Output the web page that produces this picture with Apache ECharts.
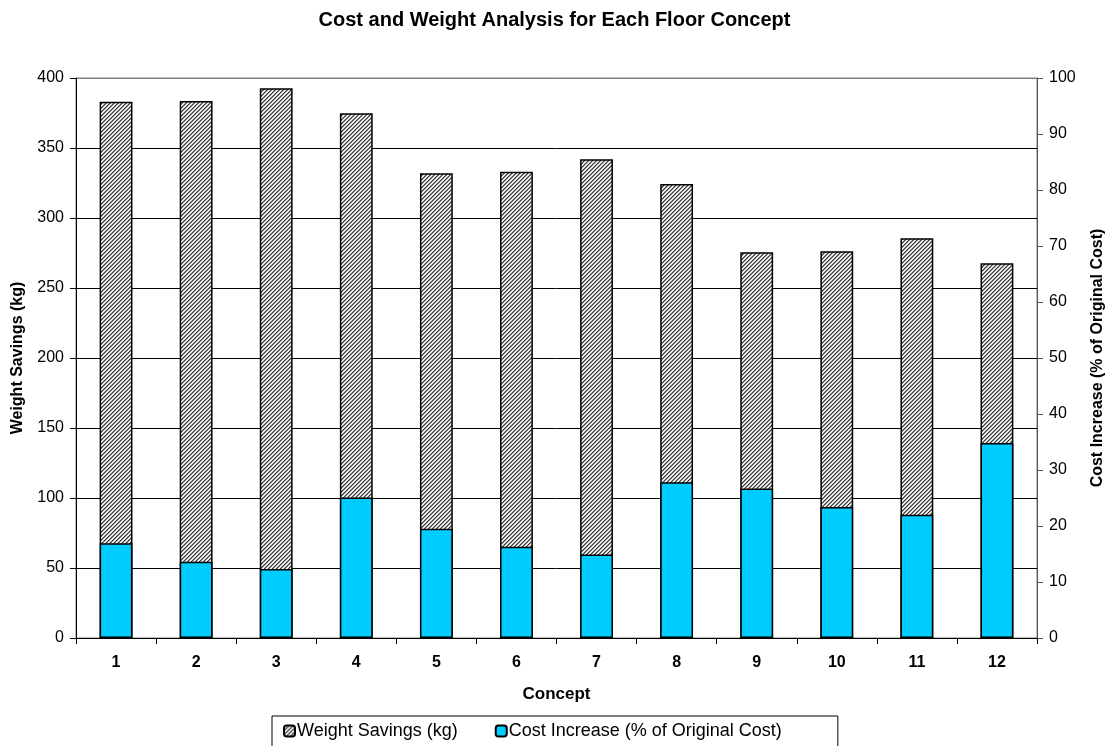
<!DOCTYPE html>
<html>
<head>
<meta charset="utf-8">
<script src="https://cdn.jsdelivr.net/npm/echarts@6/dist/echarts.min.js"></script>
<style>html,body{margin:0;padding:0;background:#fff;}#c{width:1109px;height:746px;}</style>
</head>
<body>
<div id="c"></div>
<script>
const categories = ['1','2','3','4','5','6','7','8','9','10','11','12'];
const weightSavings = [383, 383.6, 392.6, 374.8, 332, 333.1, 341.9, 324.3, 275.5, 276.2, 285.5, 267.6];
const costIncrease = [16.9, 13.6, 12.3, 25.1, 19.5, 16.3, 14.9, 27.8, 26.7, 23.4, 22.0, 34.8];
const leftTicks = {min: 0, max: 400, interval: 50};
const rightTicks = {min: 0, max: 100, interval: 10};

function makePattern() {
  const cv = document.createElement('canvas');
  cv.width = 4; cv.height = 4;
  const ctx = cv.getContext('2d');
  ctx.fillStyle = '#ffffff';
  ctx.fillRect(0, 0, 4, 4);
  for (let x = 0; x < 4; x++) {
    for (let y = 0; y < 4; y++) {
      const k = (x + y) % 4;
      if (k === 0) { ctx.fillStyle = '#3c3c3c'; ctx.fillRect(x, y, 1, 1); }
      else if (k === 1) { ctx.fillStyle = '#8a8a8a'; ctx.fillRect(x, y, 1, 1); }
      else if (k === 3) { ctx.fillStyle = '#d8d8d8'; ctx.fillRect(x, y, 1, 1); }
    }
  }
  return cv;
}

const chart = echarts.init(document.getElementById('c'), null, {renderer: 'canvas'});
const font = 'Liberation Sans, Arial, sans-serif';
const splitColors = ['#000','#000','#000','#000','#000','#000','#000','#000','#808080'];
chart.setOption({
  animation: false,
  backgroundColor: '#fff',
  textStyle: {fontFamily: font},
  title: {
    text: 'Cost and Weight Analysis for Each Floor Concept',
    left: 'center', top: 5,
    textStyle: {fontFamily: font, fontSize: 20, fontWeight: 'bold', color: '#000'}
  },
  legend: {
    bottom: -6, left: 272,
    padding: [6, 56, 12, 11],
    borderColor: '#000', borderWidth: 1,
    itemWidth: 11, itemHeight: 11, itemGap: 37,
    textStyle: {fontFamily: font, fontSize: 18, color: '#000', padding: [0, 0, 0, -3]},
    data: ['Weight Savings (kg)', 'Cost Increase (% of Original Cost)']
  },
  grid: {left: 76, right: 72, top: 78, bottom: 108, show: true, borderColor: '#808080', borderWidth: 1,
         containLabel: false, outerBoundsMode: 'none'},
  xAxis: {
    type: 'category', data: categories,
    name: 'Concept', nameLocation: 'middle', nameGap: 48,
    nameTextStyle: {fontFamily: font, fontSize: 17, fontWeight: 'bold', color: '#000'},
    axisLine: {lineStyle: {color: '#000', width: 1}},
    axisTick: {show: true, length: 6, lineStyle: {color: '#000'}},
    axisLabel: {fontFamily: font, fontSize: 16, fontWeight: 'bold', color: '#000', margin: 17}
  },
  yAxis: [{
    type: 'value', min: leftTicks.min, max: leftTicks.max, interval: leftTicks.interval,
    name: 'Weight Savings (kg)', nameLocation: 'middle', nameGap: 50,
    nameTextStyle: {fontFamily: font, fontSize: 16, fontWeight: 'bold', color: '#000'},
    axisLine: {show: true, lineStyle: {color: '#000'}},
    axisTick: {show: true, length: 6, lineStyle: {color: '#000'}},
    axisLabel: {fontFamily: font, fontSize: 16, color: '#000', margin: 12},
    splitLine: {show: true, lineStyle: {color: splitColors, width: 1}}
  }, {
    type: 'value', min: rightTicks.min, max: rightTicks.max, interval: rightTicks.interval,
    position: 'right',
    name: 'Cost Increase (% of Original Cost)', nameLocation: 'middle', nameGap: 53,
    nameRotate: 90,
    nameTextStyle: {fontFamily: font, fontSize: 16, fontWeight: 'bold', color: '#000'},
    axisLine: {show: true, lineStyle: {color: '#555'}},
    axisTick: {show: true, length: 6, lineStyle: {color: '#555'}},
    axisLabel: {fontFamily: font, fontSize: 16, color: '#000', margin: 12},
    splitLine: {show: false}
  }],
  series: [{
    name: 'Weight Savings (kg)', type: 'bar', yAxisIndex: 0,
    data: weightSavings, barWidth: '41%', barGap: '-100%',
    itemStyle: {color: {image: makePattern(), repeat: 'repeat'}, borderColor: '#000', borderWidth: 1.5}
  }, {
    name: 'Cost Increase (% of Original Cost)', type: 'bar', yAxisIndex: 1,
    data: costIncrease, barWidth: '41%', barGap: '-100%',
    itemStyle: {color: '#00CCFF', borderColor: '#000', borderWidth: 1.5}
  }]
});
</script>
</body>
</html>
